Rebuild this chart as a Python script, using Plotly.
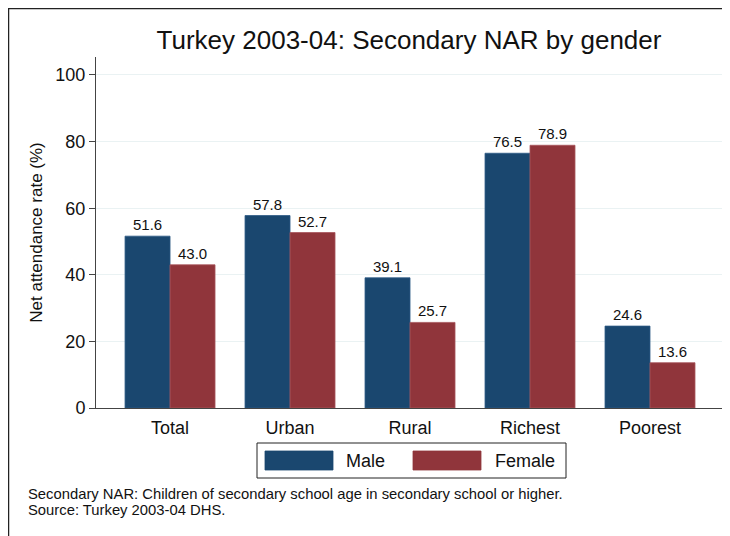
import plotly.graph_objects as go

# data
categories = ["Total", "Urban", "Rural", "Richest", "Poorest"]
male = [51.6, 57.8, 39.1, 76.5, 24.6]
female = [43.0, 52.7, 25.7, 78.9, 13.6]
y_ticks = [0, 20, 40, 60, 80, 100]
notes = [
    "Secondary NAR: Children of secondary school age in secondary school or higher.",
    "Source: Turkey 2003-04 DHS.",
]

NAVY = "#1a476f"
MAROON = "#90353b"
FONT = "Liberation Sans, Arial, sans-serif"

W, H = 730, 536
OFF = 8  # page body margin shifts the figure by 8px

# plot area in reference (page) pixels
L, R, T, B = 96, 722, 57, 408


def px(x):
    return (x - L) / (R - L)


def py(y):
    return (B - y) / (B - T)


fig = go.Figure()
fig.add_trace(go.Bar(
    x=categories, y=male, name="Male",
    marker=dict(color=NAVY, line=dict(color="#2d5a85", width=0.8)),
    text=[f"{v:.1f}" for v in male], textposition="outside",
    textfont=dict(size=15, color="#111"), cliponaxis=False,
))
fig.add_trace(go.Bar(
    x=categories, y=female, name="Female",
    marker=dict(color=MAROON, line=dict(color="#a8565c", width=0.8)),
    text=[f"{v:.1f}" for v in female], textposition="outside",
    textfont=dict(size=15, color="#111"), cliponaxis=False,
))

fig.update_layout(
    width=W, height=H,
    margin=dict(l=L - OFF, r=W - (R - OFF), t=T - OFF, b=H - (B - OFF)),
    paper_bgcolor="white", plot_bgcolor="white",
    font=dict(family=FONT, color="#111"),
    barmode="group", bargap=0.25, bargroupgap=0,
    showlegend=False,
    title=dict(text="Turkey 2003-04: Secondary NAR by gender",
               x=px(409), xref="paper", xanchor="center",
               y=1 - (40 - OFF) / H, yanchor="middle",
               font=dict(size=26, color="#111")),
)
fig.update_xaxes(
    range=[-0.617, 4.6], showgrid=False, showline=True, linecolor="#444",
    linewidth=1, ticks="", tickfont=dict(size=18), ticklabelstandoff=3,
)
fig.update_yaxes(
    range=[0, 105.4], tickvals=y_ticks, showgrid=True, gridcolor="#eaf2f3",
    gridwidth=1, showline=True, linecolor="#444", linewidth=1,
    ticks="outside", ticklen=6, tickcolor="#444", tickfont=dict(size=18),
    title=dict(text="Net attendance rate (%)", font=dict(size=17), standoff=8),
    zeroline=False,
)

# outer frame (top and left edges visible in the reference)
fig.add_shape(type="line", xref="paper", yref="paper",
              x0=px(OFF), x1=px(W + OFF), y0=py(OFF + 0.5), y1=py(OFF + 0.5),
              line=dict(color="#222", width=1.5))
fig.add_shape(type="line", xref="paper", yref="paper",
              x0=px(OFF + 0.5), x1=px(OFF + 0.5), y0=py(OFF), y1=py(H + OFF),
              line=dict(color="#222", width=1.5))

# legend drawn as a boxed key
fig.add_shape(type="rect", xref="paper", yref="paper",
              x0=px(257), x1=px(566), y0=py(443), y1=py(478),
              line=dict(color="#222", width=1), fillcolor="white")
for name, color, x0, tx in [("Male", NAVY, 265, 344), ("Female", MAROON, 413, 493)]:
    fig.add_shape(type="rect", xref="paper", yref="paper",
                  x0=px(x0), x1=px(x0 + 68), y0=py(451), y1=py(470),
                  line=dict(color=color, width=0.8), fillcolor=color)
    fig.add_annotation(text=name, xref="paper", yref="paper",
                       x=px(tx), y=py(461), xanchor="left", yanchor="middle",
                       showarrow=False, font=dict(size=18, color="#111"))

# footnote, one annotation per line for tight spacing
for i, line in enumerate(notes):
    fig.add_annotation(
        text=line, xref="paper", yref="paper", x=px(26), y=py(494 + 16 * i),
        xanchor="left", yanchor="middle", align="left", showarrow=False,
        font=dict(size=14.8, color="#111"),
    )

fig.write_html("out.html")
